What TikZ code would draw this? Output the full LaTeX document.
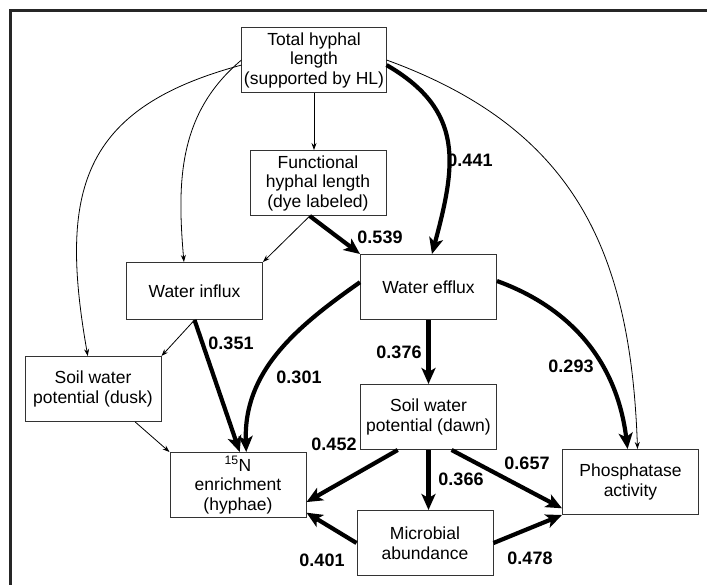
\documentclass[tikz,border=0pt]{standalone}
\usepackage{fontspec}
\setmainfont{Liberation Sans}
\usetikzlibrary{arrows.meta, 
                positioning}
\tikzset{box/.style={draw=black!80, line width=1pt, minimum width=136pt,
        minimum height=65pt, inner sep=2pt, align=center,
        font=\fontsize{17.5}{19.5}\selectfont},
    weak/.style={line width=0.8pt, -{Stealth[length=7pt, width=5pt]}},
    strong/.style={line width=4.2pt, -{Stealth[length=16pt, width=14pt, inset=4pt]}},
    coef/.style={inner sep=0pt, font=\fontsize{18}{18}\selectfont\bfseries}}

\begin{document}
\begin{tikzpicture}[x = 1pt, y = 1pt]
        \useasboundingbox (0, 0) rectangle (707, -585);
        \draw[line width=3pt, black!85] (10, -585) -- (10, -11) -- (707, -11);
        \node[box] (total) at (314, -60) {Total hyphal\\length\\(supported by HL)};
        \node[box] (functional) at (318, -183) {Functional\\hyphal length\\(dye labeled)};
        \node[box, minimum height=57pt] (influx) at (194.5, -291) {Water influx};
        \node[box] (efflux) at (428.5, -287) {Water efflux};
        \node[box] (dusk) at (93, -389) {Soil water\\potential (dusk)};
        \node[box] (enrich) at (238, -485) {\textsuperscript{15}N\\enrichment\\(hyphae)};
        \node[box] (dawn) at (428.5, -417) {Soil water\\potential (dawn)};
        \node[box] (microbe) at (425, -543) {Microbial\\abundance};
        \node[box] (phos) at (630.5, -482) {Phosphatase\\activity};
        % weak paths
        \draw[weak] (total.south) -- (total.south |- functional.north);
        \draw[weak] (total.west) to[out=220, in=95] (influx.110);
        \draw[weak] (total.184) to[out=195, in=100, looseness=1.3] (dusk.99);
        \draw[weak] (total.east) to[out=-20, in=92, looseness=1.1] (phos.78);
        \draw[weak] (functional.256) -- (influx.north east);
        \draw[weak] (influx.south) -- (dusk.north east);
        \draw[weak] (dusk.-38) -- (enrich.north west);
        % strong paths
        \draw[strong] (functional.256) -- (efflux.north west);
        \draw[strong] (total.-4) to[out=-30, in=75, looseness=1.2] (efflux.84);
        \draw[strong] (influx.south) -- (enrich.87);
        \draw[strong] (efflux.176) to[out=215, in=92] (enrich.76);
        \draw[strong] (efflux.5) to[out=-20, in=97] (phos.95);
        \draw[strong] (efflux.south) -- (dawn.north);
        \draw[strong] (dawn.227) -- (enrich.-14);
        \draw[strong] (dawn.south) -- (dawn.south |- microbe.north);
        \draw[strong] (dawn.-55) -- (phos.201);
        \draw[strong] (microbe.west) -- (enrich.-22);
        \draw[strong] (microbe.east) -- (phos.south west);
        % coefficients
        \node[coef] (p441) at (470, -160) {0.441};
        \node[coef] (p539) at (380, -237) {0.539};
        \node[coef] (p351) at (231, -343) {0.351};
        \node[coef] (p301) at (299, -377) {0.301};
        \node[coef] (p452) at (334, -444) {0.452};
        \node[coef] (p376) at (399, -352) {0.376};
        \node[coef] (p293) at (571, -366) {0.293};
        \node[coef] (p657) at (527, -463) {0.657};
        \node[coef] (p366) at (461, -479) {0.366};
        \node[coef] (p401) at (322, -560) {0.401};
        \node[coef] (p478) at (530, -558) {0.478};
    \end{tikzpicture}
\end{document}
